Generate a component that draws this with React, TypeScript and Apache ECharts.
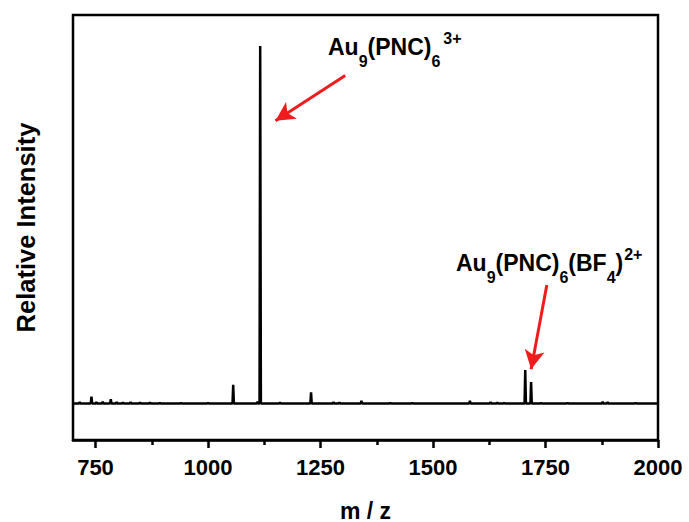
import React, { useEffect, useRef } from 'react';
import * as echarts from 'echarts';

// ---- data ----
const xRange = [700, 2000];
const yRange = [-9.4, 100];
const majorTicks = [750, 1000, 1250, 1500, 1750, 2000];
const minorTicks = [875, 1125, 1375, 1625, 1875];

// peak positions (m/z) and relative intensities
const peakMz = [715, 741, 752, 766, 784, 797, 811, 828, 849, 871, 893, 940, 1000, 1056, 1110, 1116, 1160, 1229, 1279, 1292, 1341, 1405, 1454, 1582, 1628, 1643, 1658, 1705, 1718, 1740, 1799, 1877, 1888, 1950];
const peakIntensity = [0.4, 1.75, 0.4, 0.5, 1.1, 0.4, 0.3, 0.4, 0.3, 0.3, 0.2, 0.2, 0.2, 4.8, 0.5, 92.0, 0.3, 2.9, 0.4, 0.3, 0.7, 0.2, 0.2, 0.7, 0.4, 0.3, 0.2, 8.6, 5.5, 0.2, 0.2, 0.5, 0.4, 0.2];

// annotation arrows: [m/z, intensity]
const arrowFrom1 = [1305, 84.4];
const arrowTo1 = [1150, 72.8];
const arrowFrom2 = [1753, 30.5];
const arrowTo2 = [1718, 8.8];

const xName = 'm / z';
const yName = 'Relative Intensity';

const PEAK_HALF_WIDTH = 1.5;
const FONT = "'Liberation Sans', Arial, sans-serif";
const RED = '#ee1c1c';

function buildSpectrum(): [number, number][] {
  const pts: [number, number][] = [[xRange[0], 0]];
  peakMz.forEach((mz, i) => {
    pts.push([mz - PEAK_HALF_WIDTH, 0], [mz, peakIntensity[i]], [mz + PEAK_HALF_WIDTH, 0]);
  });
  pts.push([xRange[1], 0]);
  return pts;
}

const rich = {
  b: { fontSize: 23, fontWeight: 'bold', fontFamily: FONT, fill: '#000', lineHeight: 44, verticalAlign: 'middle' },
  s: { fontSize: 16, fontWeight: 'bold', fontFamily: FONT, fill: '#000', lineHeight: 12, verticalAlign: 'bottom' },
  p: { fontSize: 16, fontWeight: 'bold', fontFamily: FONT, fill: '#000', lineHeight: 18, verticalAlign: 'top', padding: [5, 0, 0, 3] },
  p2: { fontSize: 16, fontWeight: 'bold', fontFamily: FONT, fill: '#000', lineHeight: 18, verticalAlign: 'top', padding: [5, 0, 0, 1] },
};

export default function App() {
  const ref = useRef<HTMLDivElement>(null);
  useEffect(() => {
    if (!ref.current) return;
    const chart = echarts.init(ref.current, null, { renderer: 'svg' });
    const gridBox = { left: 73, right: 31, top: 15, bottom: 82, outerBoundsMode: 'none', containLabel: false };
    const option: any = {
      animation: false,
      backgroundColor: '#fff',
      grid: [
        { ...gridBox, show: true, borderColor: '#000', borderWidth: 2.5, backgroundColor: 'transparent' },
        { ...gridBox, show: false },
      ],
      xAxis: [
        {
          type: 'value', gridIndex: 0, min: xRange[0], max: xRange[1], position: 'bottom',
          axisLine: { show: true, onZero: false, lineStyle: { color: '#000', width: 2.5 } },
          axisTick: { show: true, inside: false, length: 8, lineStyle: { color: '#000', width: 2.5 }, customValues: majorTicks },
          axisLabel: {
            show: true, customValues: majorTicks, margin: 16, fontSize: 22, fontWeight: 'bold', fontFamily: FONT, color: '#000',
            formatter: (v: number) => String(v),
          },
          splitLine: { show: false },
          name: xName, nameLocation: 'middle', nameGap: 59,
          nameTextStyle: { fontSize: 23, fontWeight: 'bold', fontFamily: FONT, color: '#000' },
        },
        {
          type: 'value', gridIndex: 1, min: xRange[0], max: xRange[1], position: 'bottom',
          axisLine: { show: false, onZero: false },
          axisTick: { show: true, inside: false, length: 5, lineStyle: { color: '#000', width: 2.5 }, customValues: minorTicks },
          axisLabel: { show: false },
          splitLine: { show: false },
        },
      ],
      yAxis: [
        {
          type: 'value', gridIndex: 0, min: yRange[0], max: yRange[1],
          axisLine: { show: false, onZero: false }, axisTick: { show: false }, axisLabel: { show: false }, splitLine: { show: false },
          name: yName, nameLocation: 'middle', nameGap: 34,
          nameTextStyle: { fontSize: 25.5, fontWeight: 'bold', fontFamily: FONT, color: '#000' },
        },
        {
          type: 'value', gridIndex: 1, min: yRange[0], max: yRange[1],
          axisLine: { show: false, onZero: false }, axisTick: { show: false }, axisLabel: { show: false }, splitLine: { show: false },
        },
      ],
      series: [
        {
          type: 'line', xAxisIndex: 0, yAxisIndex: 0,
          data: buildSpectrum(),
          showSymbol: false, symbol: 'none', silent: true,
          lineStyle: { color: '#000', width: 2.5, join: 'bevel' },
          markLine: {
            silent: true,
            symbol: ['none', 'arrow'],
            symbolSize: [15, 19],
            label: { show: false },
            lineStyle: { color: RED, width: 3, type: 'solid' },
            emphasis: { disabled: true },
            data: [
              [{ coord: arrowFrom1 }, { coord: arrowTo1 }],
              [{ coord: arrowFrom2 }, { coord: arrowTo2 }],
            ],
          },
        },
      ],
      graphic: [
        {
          type: 'text', x: 328, y: 25, silent: true,
          style: { text: '{b|Au}{s|9}{b|(PNC)}{s|6}{p|3+}', rich },
        },
        {
          type: 'text', x: 456, y: 241, silent: true,
          style: { text: '{b|Au}{s|9}{b|(PNC)}{s|6}{b|(BF}{s|4}{b|)}{p2|2+}', rich },
        },
      ],
    };
    chart.setOption(option);
    return () => chart.dispose();
  }, []);
  return (
    <div
      ref={ref}
      style={{ position: 'fixed', left: 0, top: 0, width: 689, height: 522, background: '#fff' }}
    />
  );
}
